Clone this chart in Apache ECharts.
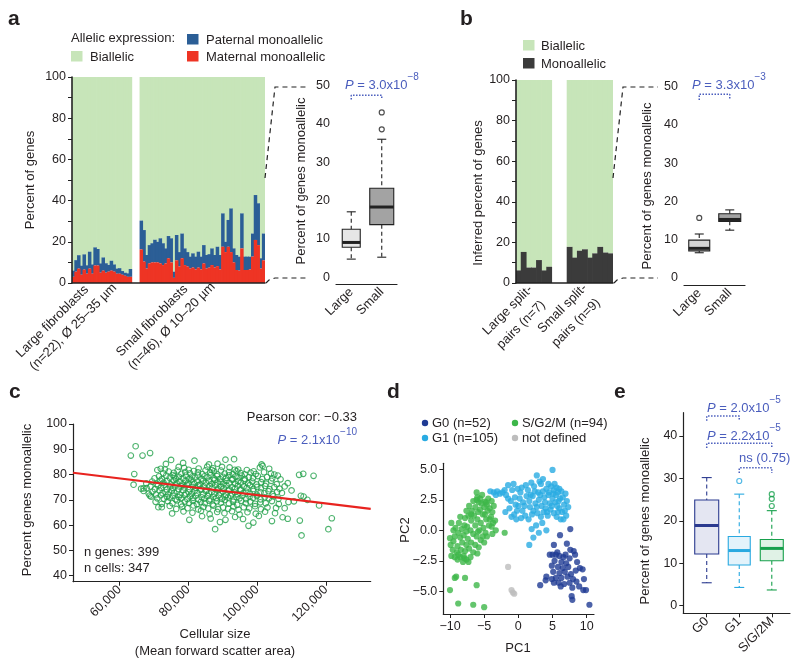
<!DOCTYPE html>
<html><head><meta charset="utf-8">
<script src="https://cdn.jsdelivr.net/npm/echarts@6/dist/echarts.min.js"></script>
<style>html,body{margin:0;padding:0;background:#fff}#c{width:800px;height:671px}</style>
</head><body><div id="c"></div>
<script>
// ================= DATA =================
// Panel a: per-cell monoallelic percentages (maternal / paternal segments)
const aLargeMaternal = [3.0,5.5,7.0,4.0,6.5,4.5,7.0,4.5,8.5,8.5,5.0,6.0,5.0,5.5,6.0,5.5,4.5,4.5,4.0,3.5,3.0,3.0];
const aLargePaternal = [3.0,5.6,6.5,4.4,7.4,4.1,8.2,4.5,8.8,8.0,4.5,6.4,4.6,3.3,4.8,3.5,2.5,2.7,1.8,1.5,1.7,3.8];
const aSmallMaternal = [16.3,10.4,7.0,9.5,10.0,10.0,10.0,9.5,8.7,9.5,12.0,10.0,2.5,11.0,8.0,12.0,8.7,8.0,7.0,7.5,6.6,7.5,6.6,9.5,7.0,7.5,8.7,7.5,8.2,6.6,17.6,15.0,17.6,15.0,10.0,6.3,6.0,16.8,6.3,6.3,6.6,12.8,20.9,18.4,7.0,11.0];
const aSmallPaternal = [14.0,15.3,6.6,8.9,9.3,11.0,10.0,12.2,10.6,7.3,10.8,11.7,3.0,12.3,7.0,12.0,8.1,7.0,5.8,6.9,6.2,7.7,6.2,8.9,6.6,6.5,8.1,6.1,9.4,7.0,16.2,5.0,13.0,21.2,6.8,7.3,6.8,17.0,6.5,6.5,6.2,11.2,21.8,20.3,5.0,13.0];
const aGapSize = 3;
const boxCats = ['Large','Small'];
// box stats: [min whisker, Q1, median, Q3, max whisker]
const aBoxLarge = [4.7,7.8,9.05,12.5,17.05];
const aBoxSmall = [5.2,13.7,18.3,23.2,36.0];
const aOutSmall = [38.6,43.0];
// Panel b
const bLargeMono = [6.2,15.3,7.6,7.6,11.3,6.2,8.0];
const bSmallMono = [17.8,12.5,15.9,16.6,12.5,14.6,17.8,15.0,14.6];
const bGapSize = 3;
const bBoxLarge = [6.6,7.1,7.75,9.9,11.5];
const bBoxSmall = [12.5,14.8,15.3,16.8,17.8];
const bOutLarge = [15.7];
// Panel c: [cellular size (thousands), percent monoallelic]
const cPoints = [
[75.0,85.8],[78.5,84.6],[81.8,85.5],[86.0,84.0],[88.5,84.3],[90.8,85.9],[93.3,86.1],[101.3,84.0],[101.6,83.4],[73.5,84.2],
[72.0,82.3],[73.2,82.0],[77.2,83.0],[78.8,82.6],[83.0,82.4],[85.5,83.1],[87.2,82.5],[89.8,83.0],[92.0,82.8],[94.5,82.0],[97.0,81.8],[99.0,81.3],[100.8,82.8],[103.5,82.3],[105.0,80.0],[106.0,79.6],
[71.0,81.8],[72.7,80.5],[74.3,81.2],[75.8,80.7],[76.9,81.6],[78.0,80.3],[79.1,81.0],[80.5,80.5],[81.6,81.4],[82.8,80.9],[84.1,80.2],[85.0,81.7],[86.3,80.8],[87.5,81.3],[88.4,80.1],[89.5,81.6],[90.6,80.4],[91.8,81.0],[92.9,80.2],[94.0,81.4],[95.2,80.6],[96.4,80.1],[98.1,80.8],[99.6,80.2],[102.0,80.9],[104.0,80.4],[80.1,81.9],[86.9,81.8],[93.5,81.9],
[70.2,78.5],[71.5,79.3],[72.3,78.2],[73.6,79.6],[74.6,78.7],[75.5,79.8],[76.4,78.3],[77.3,79.1],[78.4,78.6],[79.3,79.6],[80.2,78.3],[81.1,79.2],[82.0,78.8],[82.9,79.7],[83.8,78.4],[84.7,79.3],[85.6,78.9],[86.5,79.8],[87.4,78.5],[88.3,79.4],[89.2,78.2],[90.1,79.1],[91.0,78.7],[91.9,79.7],[92.8,78.4],[93.7,79.2],[94.6,78.9],[95.5,79.6],[96.4,78.3],[97.6,79.0],[98.8,78.6],[100.2,79.4],[101.5,78.2],[102.9,79.0],[104.4,78.5],[106.8,78.1],[76.0,79.3],
[67.8,76.5],[69.5,77.2],[70.8,76.3],[71.9,77.6],[72.8,76.8],[73.9,77.4],[74.8,76.2],[75.7,77.7],[76.6,76.6],[77.5,77.3],[78.3,76.1],[79.2,77.5],[80.0,76.8],[80.9,77.9],[81.7,76.4],[82.6,77.2],[83.4,76.0],[84.3,77.6],[85.1,76.7],[86.0,77.4],[86.8,76.3],[87.7,77.8],[88.5,76.9],[89.4,77.1],[90.2,76.2],[91.1,77.5],[91.9,76.6],[92.8,77.9],[93.6,76.4],[94.5,77.3],[95.3,76.8],[96.3,77.6],[97.4,76.5],[98.6,77.2],[99.8,76.1],[101.2,77.0],[102.6,76.4],[104.1,77.5],[105.7,76.2],[108.9,76.6],
[66.3,74.4],[67.9,74.6],[69.0,75.3],[70.3,74.2],[71.2,75.6],[72.1,74.8],[73.0,75.9],[73.8,74.1],[74.7,75.2],[75.5,74.6],[76.3,75.7],[77.2,74.3],[78.0,75.4],[78.8,74.9],[79.6,75.9],[80.4,74.2],[81.3,75.1],[82.1,74.7],[82.9,75.8],[83.7,74.4],[84.5,75.3],[85.3,74.0],[86.2,75.5],[87.0,74.8],[87.8,75.9],[88.6,74.3],[89.5,75.2],[90.3,74.6],[91.1,75.7],[91.9,74.1],[92.7,75.0],[93.6,74.5],[94.4,75.6],[95.2,74.2],[96.1,75.3],[97.0,74.7],[97.9,75.8],[98.9,74.3],[100.0,75.1],[101.1,74.6],[102.3,75.5],[103.6,74.2],[105.0,75.0],[106.5,74.4],[108.0,75.3],
[67.0,73.5],[68.5,72.4],[69.6,73.2],[70.6,72.1],[71.6,73.7],[72.5,72.6],[73.4,73.1],[74.2,72.2],[75.1,73.6],[75.9,72.8],[76.8,73.3],[77.6,72.0],[78.5,73.8],[79.3,72.5],[80.1,73.0],[81.0,72.3],[81.8,73.5],[82.6,72.7],[83.5,73.9],[84.3,72.1],[85.1,73.4],[86.0,72.6],[86.8,73.1],[87.6,72.3],[88.5,73.7],[89.3,72.8],[90.1,73.3],[91.0,72.0],[91.8,73.6],[92.7,72.5],[93.5,73.0],[94.3,72.2],[95.2,73.8],[96.0,72.7],[96.9,73.2],[97.9,72.4],[98.9,73.5],[99.9,72.1],[101.0,73.0],[102.1,72.6],[103.3,73.4],[104.5,72.2],[105.8,73.1],[107.2,72.7],[110.0,73.7],
[69.2,71.3],[71.0,70.6],[72.0,71.8],[72.9,70.4],[73.8,71.2],[74.6,70.9],[75.5,71.6],[76.3,70.2],[77.2,71.1],[78.0,70.7],[78.9,71.9],[79.7,70.3],[80.5,71.4],[81.4,70.8],[82.2,71.7],[83.0,70.1],[83.9,71.0],[84.7,70.5],[85.6,71.5],[86.4,70.2],[87.3,71.2],[88.1,70.7],[88.9,71.8],[89.8,70.4],[90.6,71.3],[91.5,70.9],[92.3,71.6],[93.2,70.1],[94.0,71.1],[94.9,70.6],[95.8,71.7],[96.8,70.3],[97.8,71.2],[98.8,70.8],[99.9,71.5],[101.0,70.2],[102.2,71.0],[103.4,70.6],[104.7,71.4],[106.2,70.4],[112.7,71.6],[113.5,71.3],
[70.5,69.2],[72.3,68.4],[74.0,69.5],[75.4,68.6],[76.7,69.8],[77.9,68.2],[79.0,69.3],[80.2,68.8],[81.3,69.6],[82.5,68.3],[83.6,69.1],[84.8,68.7],[86.0,69.7],[87.1,68.1],[88.3,69.4],[89.5,68.9],[90.6,69.9],[91.8,68.5],[93.0,69.2],[94.2,68.0],[95.4,69.6],[96.7,68.7],[98.0,69.3],[99.4,68.4],[100.9,69.0],[102.5,68.6],[104.3,69.5],[106.3,68.3],[109.1,69.1],[110.7,69.4],[114.6,70.0],
[72.3,67.1],[74.6,67.6],[76.5,66.4],[78.2,67.3],[79.8,66.7],[81.5,67.8],[82.9,66.2],[84.4,67.2],[85.8,66.6],[87.3,67.7],[88.7,66.3],[90.1,67.0],[91.6,66.5],[93.1,67.4],[94.6,66.1],[96.1,67.1],[97.7,66.6],[99.4,67.5],[101.1,66.3],[103.0,67.0],[105.5,66.8],[108.0,66.7],[118.0,67.8],
[75.3,64.6],[78.6,65.4],[81.2,64.9],[83.7,65.7],[86.2,64.3],[88.4,65.2],[90.5,64.7],[92.7,65.5],[94.9,64.2],[97.2,65.1],[99.6,64.5],[102.3,65.3],[105.2,64.7],[107.4,63.1],
[80.3,62.1],[84.0,63.5],[86.5,62.6],[89.2,61.2],[90.8,62.1],[93.6,63.2],[95.9,62.4],[98.9,61.0],[100.5,63.6],[104.3,61.6],[108.9,62.5],[112.4,61.8],[121.7,62.7],
[87.8,58.4],[97.5,59.7],[112.9,55.9],[120.7,58.4],
[63.3,87.5],[64.7,91.2],[66.7,87.5],[68.9,88.5],[64.3,80.2],[64.1,76.0],[67.0,74.5],[68.8,71.7],[71.3,67.1],[112.2,79.9],[113.4,80.3],[116.4,79.5]
];
const cFit = [[46.5,80.7],[133.0,66.4]];
// Panel d: PCA coordinates
const dG0 = [[7.6,0.1],[6.1,-0.4],[5.2,-1.2],[7.1,-1.1],[7.6,-1.6],[8.1,-1.7],[4.6,-2.0],[5.0,-2.0],[5.5,-2.0],[6.0,-2.1],[5.7,-1.8],[6.6,-2.2],[7.5,-2.3],[8.3,-2.0],[5.3,-2.5],[6.3,-2.6],[7.0,-2.7],[8.6,-2.6],[4.9,-2.9],[5.8,-3.0],[6.5,-3.1],[7.3,-3.0],[9.0,-3.1],[9.4,-3.2],[5.1,-3.4],[6.0,-3.5],[6.8,-3.4],[7.7,-3.6],[8.4,-3.3],[4.1,-3.8],[5.5,-3.9],[6.3,-3.9],[7.2,-3.8],[8.0,-4.0],[9.6,-4.0],[4.0,-4.1],[4.9,-4.0],[5.9,-4.3],[6.7,-4.4],[7.5,-4.3],[8.5,-4.2],[3.2,-4.5],[5.2,-4.3],[6.2,-4.6],[7.9,-4.7],[8.9,-4.6],[9.5,-4.9],[9.9,-4.9],[7.8,-5.4],[7.9,-5.7],[10.4,-6.1],[6.9,-2.0]];
const dG1 = [[-4.1,3.2],[-3.6,3.1],[-3.1,3.2],[-2.7,3.0],[-2.3,3.1],[-1.8,2.9],[-3.3,2.9],
[-1.5,3.7],[-0.7,3.8],[-1.1,2.4],[-0.5,2.7],[-1.9,1.5],[-1.3,1.8],[-0.4,2.1],[0.2,2.6],[0.7,2.3],[-0.9,3.3],[0.3,3.1],[-0.2,1.6],[1.2,2.8],
[-1.0,1.1],[-0.3,0.9],[0.4,1.0],[1.0,1.2],[-0.6,1.3],[1.5,0.9],[2.0,1.3],
[1.4,3.3],[1.9,3.9],[2.3,3.6],[2.7,4.5],[2.9,3.1],[3.3,3.8],[3.6,3.2],[1.6,2.4],[2.1,2.8],[2.5,2.2],[3.0,2.5],[3.4,2.0],[3.8,2.7],[4.1,3.4],[4.4,2.9],[4.0,1.8],[2.2,1.6],[2.8,1.4],[3.3,1.1],[3.7,1.5],[4.3,1.2],[4.6,2.2],[1.7,1.9],[2.6,0.4],[2.2,-0.6],[1.6,-1.2],[1.95,0.1],[3.0,-0.2],[4.1,0.0],[3.5,0.6],
[5.0,4.95],[4.8,3.6],[5.2,3.3],[5.5,2.9],[5.8,3.1],[6.1,2.6],[5.0,2.6],[5.4,2.3],[5.7,2.0],[6.0,1.8],[6.4,1.5],[6.7,2.1],[7.0,1.2],[6.3,3.2],[6.9,3.0],[4.7,1.7],[5.2,1.4],[5.6,1.1],[6.2,0.9],[6.6,0.9],[7.3,1.9],[5.9,2.4],[5.3,3.8],[4.9,2.0],[6.5,2.7],[7.1,2.4],[5.1,3.0],[4.5,3.1],[3.9,2.3],[4.2,1.5],[6.8,1.6],[5.6,3.5],[6.0,3.4],[5.8,1.5],
[0.0,2.0],[0.9,2.0],[1.1,3.7],[0.5,3.5],[-0.1,3.4],[2.4,3.2],[3.1,4.0],[3.6,4.2],[1.8,2.9],[2.7,1.9],[3.2,2.9],[4.4,3.8],[0.6,1.6],[-2.0,3.3],[-1.5,2.6]];
const dSG2M = [[-9.3,-3.9],[-9.1,-3.8],[-7.8,-3.9],[-6.1,-4.5],[-10.0,-4.9],[-8.8,-6.0],[-6.6,-6.1],[-5.0,-6.3],
[-2.0,-0.2],[-3.3,0.0],[-3.4,0.8],
[-6.1,3.1],[-6.1,2.5],[-4.9,2.35],[-4.6,2.1],[-4.2,1.8],[-3.8,1.5],[-4.0,1.1],[-4.5,1.6],[-5.0,1.9],[-5.4,2.2],
[-5.6,1.7],[-5.2,1.3],[-4.7,0.9],[-3.7,0.6],[-4.3,0.4],[-5.9,1.5],[-6.3,1.9],[-6.8,1.6],[-6.5,1.2],[-6.0,0.9],
[-5.5,0.6],[-5.1,0.2],[-4.8,-0.2],[-5.7,0.0],[-6.3,0.4],[-6.9,0.8],[-7.3,1.2],[-7.8,1.0],[-8.5,1.1],[-9.8,0.6],
[-7.5,0.3],[-7.0,0.0],[-6.6,-0.3],[-6.1,-0.5],[-5.5,-0.8],[-5.0,-1.0],[-7.9,0.4],[-8.3,0.1],[-8.8,-0.2],[-9.3,-0.5],
[-10.0,-0.65],[-9.5,-0.9],[-8.5,-0.6],[-8.0,-0.4],[-7.4,-0.7],[-6.9,-1.0],[-6.3,-1.2],[-5.8,-1.4],[-7.6,-1.2],[-8.2,-1.0],
[-8.9,-1.3],[-9.6,-1.6],[-9.0,-1.8],[-8.4,-1.6],[-7.8,-1.7],[-7.2,-1.5],[-6.6,-1.8],[-9.8,-2.1],[-9.3,-2.2],[-8.5,-2.2],
[-8.0,-2.1],[-7.3,-2.6],[-7.6,-2.4],[-8.8,-2.0],[-9.9,-1.2],[-9.2,0.2],[-8.7,0.6],[-7.2,2.0],[-6.0,2.7],[-5.3,2.9],
[-4.4,2.6],[-3.6,2.0],[-3.9,2.4],[-5.8,2.3],[-6.6,2.4],[-4.9,1.3],[-5.9,-0.1],[-7.6,-0.1],[-8.9,-2.4],[-7.0,-2.2],
[-6.0,-1.9],[-4.6,-0.5],[-3.8,-0.3],[-8.1,-2.6],[-7.9,-2.3],[-5.2,-0.5],[-4.2,0.9],[-3.9,0.3],[-5.6,2.6],[-4.7,2.3],
[-6.9,1.3],[-7.6,1.6],[-9.5,0.0]];
const dNotDefined = [[-1.5,-3.0],[-1.0,-4.9],[-0.6,-5.2],[-0.8,-5.1]];
// Panel e
const eCats = ['G0','G1','S/G/2M'];
const eBoxG0 = [5.4,12.2,18.9,24.9,30.2];
const eBoxG1 = [4.3,9.6,13.0,16.3,26.3];
const eBoxS = [3.7,10.6,13.5,15.6,22.4];
const eOutG1 = [29.4];
const eOutS = [23.5,25.2,26.3];

// ================= STYLE =================
const FONT = '"Liberation Sans", Arial, sans-serif';
const TXT = '#231f20';
const BLUE = '#4a5dbd';
const GREEN_BG = '#c7e5b9', PAT = '#2b5e96', MAT = '#ee3424', MONO = '#3b3b3b';

const chart = echarts.init(document.getElementById('c'), null, {renderer:'canvas'});

// build bar categories
const gapA = Array(aGapSize).fill(null);
const aMat = aLargeMaternal.concat(gapA, aSmallMaternal);
const aPat = aLargePaternal.concat(gapA, aSmallPaternal);
const aBi = aMat.map((m,i)=> m==null ? null : +(100 - m - aPat[i]).toFixed(2));
const aCats = aMat.map((_,i)=>'c'+i);
const gapB = Array(bGapSize).fill(null);
const bMono = bLargeMono.concat(gapB, bSmallMono);
const bBi = bMono.map(v=> v==null ? null : +(100 - v).toFixed(2));
const bCats = bMono.map((_,i)=>'c'+i);

function boxRender(st){
  return function(params, api){
    const x = api.value(0);
    const lo = api.coord([x, api.value(1)]), q1 = api.coord([x, api.value(2)]),
          md = api.coord([x, api.value(3)]), q3 = api.coord([x, api.value(4)]), hi = api.coord([x, api.value(5)]);
    const cx = md[0], hw = st.w/2, cw = st.cap/2;
    const ls = {stroke: st.stroke, lineWidth: 1.1};
    return {type:'group', children:[
      {type:'line', shape:{x1:cx,y1:hi[1],x2:cx,y2:q3[1]}, style:Object.assign({lineDash:[4,3]}, ls)},
      {type:'line', shape:{x1:cx,y1:q1[1],x2:cx,y2:lo[1]}, style:Object.assign({lineDash:[4,3]}, ls)},
      {type:'line', shape:{x1:cx-cw,y1:hi[1],x2:cx+cw,y2:hi[1]}, style:ls},
      {type:'line', shape:{x1:cx-cw,y1:lo[1],x2:cx+cw,y2:lo[1]}, style:ls},
      {type:'rect', shape:{x:cx-hw,y:q3[1],width:st.w,height:q1[1]-q3[1]}, style:{fill:st.fill, stroke:st.stroke, lineWidth:1.1}},
      {type:'line', shape:{x1:cx-hw,y1:md[1],x2:cx+hw,y2:md[1]}, style:{stroke:st.stroke, lineWidth:3}}
    ]};
  };
}
function boxSeries(xi, yi, xv, stats, st){
  return {type:'custom', xAxisIndex:xi, yAxisIndex:yi, renderItem: boxRender(st),
    encode:{x:0, y:[1,2,3,4,5]}, data:[[xv].concat(stats)], z:3, silent:true};
}
function outSeries(xi, yi, xv, vals, color, size){
  return {type:'scatter', xAxisIndex:xi, yAxisIndex:yi, data: vals.map(v=>[xv,v]), symbol:'circle', symbolSize:size||5,
    itemStyle:{color:'rgba(0,0,0,0)', borderColor:color, borderWidth:1.2}, z:4, silent:true};
}
function bracket(xi, yi, x1, x2, y, leg){
  return {type:'line', xAxisIndex:xi, yAxisIndex:yi, data:[[x1,y-leg],[x1,y],[x2,y],[x2,y-leg]], symbol:'none',
    lineStyle:{color:BLUE, width:1.5, type:'dotted'}, z:5, silent:true, animation:false};
}
function barS(xi, yi, stack, data, color, z, bw){
  return {type:'bar', xAxisIndex:xi, yAxisIndex:yi, stack, data, barWidth:bw, z:z||2,
    itemStyle:{color}, silent:true};
}

const axLine = {lineStyle:{color:'#222', width:1.2}};
const axTick = {length:4, lineStyle:{color:'#222', width:1}};
const axLab = {color:TXT, fontSize:12.5, fontFamily:FONT, margin:6};
function vAxis(grid, min, max, custom, extra){
  return Object.assign({gridIndex:grid, type:'value', min, max, splitLine:{show:false},
    axisLine:Object.assign({onZero:false}, axLine),
    axisTick:Object.assign({customValues:custom}, axTick),
    axisLabel:Object.assign({customValues:custom}, axLab)}, extra||{});
}
const minus = v => (v<0 ? '\u2212' + Math.abs(v) : '' + v);

const xAxes = [
  {gridIndex:0, type:'category', data:aCats, axisTick:{show:false}, axisLabel:{show:false}, axisLine:{lineStyle:{color:'#222', width:1.6}}, z:5},
  {gridIndex:1, type:'category', data:boxCats, axisLine:Object.assign({onZero:false}, axLine), axisTick:Object.assign({alignWithLabel:true}, axTick), axisLabel:Object.assign({}, axLab, {rotate:45, fontSize:13})},
  {gridIndex:2, type:'category', data:bCats, axisTick:{show:false}, axisLabel:{show:false}, axisLine:{lineStyle:{color:'#222', width:1.6}}, z:5},
  {gridIndex:3, type:'category', data:boxCats, axisLine:Object.assign({onZero:false}, axLine), axisTick:Object.assign({alignWithLabel:true}, axTick), axisLabel:Object.assign({}, axLab, {rotate:45, fontSize:13})},
  vAxis(4, 46.5, 133, [60,80,100,120], {}),
  vAxis(5, -10.98, 11.07, [-10,-5,0,5,10], {}),
  vAxis(6, 0.28, 3.56, [1,2,3], {})
];
xAxes[4].axisLabel.rotate = 45; xAxes[4].axisLabel.formatter = v => (v*1000).toLocaleString('en-US');
xAxes[5].axisLabel.formatter = v => minus(v);
xAxes[6].axisLabel.rotate = 45; xAxes[6].axisLabel.fontSize = 13; xAxes[6].axisLabel.formatter = v => eCats[Math.round(v)-1];

const yAxes = [
  {gridIndex:0, type:'value', min:0, max:100, interval:10, splitLine:{show:false}, z:5, axisLine:{show:true, lineStyle:{color:'#222', width:1.6}}, axisTick:Object.assign({show:true}, axTick), axisLabel:Object.assign({}, axLab, {formatter: v => v%20===0 ? v : ''})},
  vAxis(1, -1.8, 51.6, [0,10,20,30,40,50]),
  {gridIndex:2, type:'value', min:0, max:100, interval:10, splitLine:{show:false}, z:5, axisLine:{show:true, lineStyle:{color:'#222', width:1.6}}, axisTick:Object.assign({show:true}, axTick), axisLabel:Object.assign({}, axLab, {formatter: v => v%20===0 ? v : ''})},
  vAxis(3, -1.83, 51.75, [0,10,20,30,40,50]),
  vAxis(4, 37.6, 100, [40,50,60,70,80,90,100]),
  vAxis(5, -6.86, 5.49, [-5,-2.5,0,2.5,5]),
  vAxis(6, -1.8, 45.5, [0,10,20,30,40])
];
yAxes[5].axisLabel.formatter = v => (v<0?'\u2212':'') + Math.abs(v).toFixed(1);

const grids = [
  {left:72, top:77, width:193, height:206},
  {left:336, top:79.5, width:61, height:204.5},
  {left:516, top:80, width:97, height:203},
  {left:684, top:80, width:61, height:205},
  {left:73, top:424, width:297.7, height:157.7},
  {left:443.3, top:463.3, width:150.7, height:150.7},
  {left:683.3, top:412.7, width:106.7, height:200.6}
];

const series = [
  barS(0,0,'a',aMat,MAT,3,3.5), barS(0,0,'a',aPat,PAT,2.5,3.5), barS(0,0,'a',aBi,GREEN_BG,2,3.5),
  boxSeries(1,1,0,aBoxLarge,{stroke:'#222', fill:'#e6e6e6', w:18, cap:9}),
  boxSeries(1,1,1,aBoxSmall,{stroke:'#222', fill:'#a3a3a3', w:24, cap:9}),
  outSeries(1,1,1,aOutSmall,'#222',5),
  bracket(1,1,0,1,47.5,1.1),
  barS(2,2,'b',bMono,MONO,3,5.8), barS(2,2,'b',bBi,GREEN_BG,2,5.8),
  boxSeries(3,3,0,bBoxLarge,{stroke:'#222', fill:'#d6d6d6', w:21, cap:9}),
  boxSeries(3,3,1,bBoxSmall,{stroke:'#222', fill:'#a3a3a3', w:22, cap:9}),
  outSeries(3,3,0,bOutLarge,'#222',5),
  bracket(3,3,0,1,48,1.5),
  {type:'scatter', xAxisIndex:4, yAxisIndex:4, data:cPoints, symbol:'circle', symbolSize:5.6,
    itemStyle:{color:'rgba(0,0,0,0)', borderColor:'#22a04a', borderWidth:1.1}, silent:true, z:2},
  {type:'line', xAxisIndex:4, yAxisIndex:4, data:cFit, symbol:'none', lineStyle:{color:'#e8231f', width:2.2}, z:3, silent:true},
  {type:'scatter', xAxisIndex:5, yAxisIndex:5, data:dG1, symbolSize:6.2, itemStyle:{color:'#29abe2'}, silent:true},
  {type:'scatter', xAxisIndex:5, yAxisIndex:5, data:dSG2M, symbolSize:6.2, itemStyle:{color:'#3db649'}, silent:true},
  {type:'scatter', xAxisIndex:5, yAxisIndex:5, data:dG0, symbolSize:6.2, itemStyle:{color:'#1f3b94'}, silent:true},
  {type:'scatter', xAxisIndex:5, yAxisIndex:5, data:dNotDefined, symbolSize:6.2, itemStyle:{color:'#bdbdbd'}, silent:true},
  boxSeries(6,6,1,eBoxG0,{stroke:'#2b3a8f', fill:'#e4e6f2', w:24, cap:10}),
  boxSeries(6,6,2,eBoxG1,{stroke:'#29a9e0', fill:'#e3f3fb', w:22, cap:10}),
  boxSeries(6,6,3,eBoxS,{stroke:'#17a04c', fill:'#e0f2e6', w:23, cap:10}),
  outSeries(6,6,2,eOutG1,'#29a9e0',5),
  outSeries(6,6,3,eOutS,'#17a04c',5),
  bracket(6,6,1,2,44.7,1.1),
  bracket(6,6,1,3,38.3,1.1),
  bracket(6,6,2,3,32.5,1.2)
];

// ---------- graphic annotations ----------
const G = [];
function txt(x, y, text, o){
  o = o || {};
  G.push({type:'text', x, y, rotation:o.rot||0, silent:true, z:10,
    style:{text, fill:o.fill||TXT, fontSize:o.size||13, fontFamily:FONT, fontWeight:o.weight||'normal',
      fontStyle:o.italic?'italic':'normal', align:o.align||'left', verticalAlign:o.va||'middle'}});
}
function pval(x, y, main, sup, align){
  const base = {fill:BLUE, fontSize:13, fontFamily:FONT, lineHeight:19, verticalAlign:'bottom'};
  G.push({type:'text', x, y, silent:true, z:10, style:{
    text:'{i|P}{t| = '+main+'}{s|'+sup+'}', align:align||'left', verticalAlign:'middle',
    rich:{i:Object.assign({}, base, {fontStyle:'italic'}), t:base,
      s:{fill:BLUE, fontSize:10, fontFamily:FONT, lineHeight:19, verticalAlign:'top'}}}});
}
function rect(x, y, w, h, fill){ G.push({type:'rect', shape:{x, y, width:w, height:h}, style:{fill}, silent:true}); }
function dash(points){ G.push({type:'polyline', shape:{points}, style:{stroke:'#222', lineWidth:1.2, lineDash:[5,4], fill:null}, silent:true, z:10}); }
function dot(x, y, color){ G.push({type:'circle', shape:{cx:x, cy:y, r:3.2}, style:{fill:color}, silent:true}); }
const R45 = Math.PI/4, R90 = Math.PI/2;

// panel letters
txt(8, 19, 'a', {size:21, weight:'bold'});
txt(460, 19, 'b', {size:21, weight:'bold'});
txt(9, 392, 'c', {size:21, weight:'bold'});
txt(387, 392, 'd', {size:21, weight:'bold'});
txt(614, 392, 'e', {size:21, weight:'bold'});

// panel a legend
txt(71, 38, 'Allelic expression:');
rect(71, 51, 11.5, 10.5, GREEN_BG); txt(90, 57, 'Biallelic');
rect(187, 34, 11.5, 10.5, PAT); txt(206, 40, 'Paternal monoallelic');
rect(187, 51, 11.5, 10.5, MAT); txt(206, 57, 'Maternal monoallelic');
txt(30, 180, 'Percent of genes', {rot:R90, align:'center'});
txt(18.5, 355.5, 'Large fibroblasts', {rot:R45});
txt(32, 368.5, '(n=22), \u00d8 25\u201335 \u00b5m', {rot:R45});
txt(118.5, 354.5, 'Small fibroblasts', {rot:R45});
txt(130.5, 367.5, '(n=46), \u00d8 10\u201320 \u00b5m', {rot:R45});
txt(301, 181, 'Percent of genes monoallelic', {rot:R90, align:'center'});
pval(345, 82, '3.0x10', '\u22128');
dash([[265,178],[275,87],[309,87]]);
dash([[266,283],[269,280],[275,278],[309,278]]);

// panel b legend
rect(523, 40, 11.5, 10.5, GREEN_BG); txt(541, 46, 'Biallelic');
rect(523, 58, 11.5, 10.5, MONO); txt(541, 64, 'Monoallelic');
txt(478, 193, 'Inferred percent of genes', {rot:R90, align:'center'});
txt(485, 333, 'Large split-', {rot:R45});
txt(499, 347, 'pairs (n=7)', {rot:R45});
txt(540, 331, 'Small split-', {rot:R45});
txt(554, 345, 'pairs (n=9)', {rot:R45});
txt(647, 186, 'Percent of genes monoallelic', {rot:R90, align:'center'});
pval(692, 82, '3.3x10', '\u22123');
dash([[613,178],[623,87],[658,87]]);
dash([[614,283],[617,280],[623,278],[658,278]]);

// panel c
txt(27, 500, 'Percent genes monoallelic', {rot:R90, align:'center'});
txt(357, 417, 'Pearson cor: \u22120.33', {align:'right'});
pval(357, 437, '2.1x10', '\u221210', 'right');
txt(84, 552, 'n genes: 399');
txt(84, 568, 'n cells: 347');
txt(215, 634, 'Cellular size', {align:'center'});
txt(215, 651, '(Mean forward scatter area)', {align:'center'});

// panel d legend
dot(425, 423, '#1f3b94'); txt(432, 423, 'G0 (n=52)');
dot(515, 423, '#3db649'); txt(522, 423, 'S/G2/M (n=94)');
dot(425, 438, '#29abe2'); txt(432, 438, 'G1 (n=105)');
dot(515, 438, '#bdbdbd'); txt(522, 438, 'not defined');
txt(405, 530, 'PC2', {rot:R90, align:'center'});
txt(518, 648, 'PC1', {align:'center'});

// panel e
txt(645, 521, 'Percent of genes monoallelic', {rot:R90, align:'center'});
pval(707, 405, '2.0x10', '\u22125');
pval(707, 433, '2.2x10', '\u22125');
txt(739, 458, 'ns (0.75)', {fill:BLUE});

chart.setOption({
  animation:false,
  backgroundColor:'#fff',
  textStyle:{fontFamily:FONT},
  grid:grids, xAxis:xAxes, yAxis:yAxes, series, graphic:G
});
</script></body></html>
